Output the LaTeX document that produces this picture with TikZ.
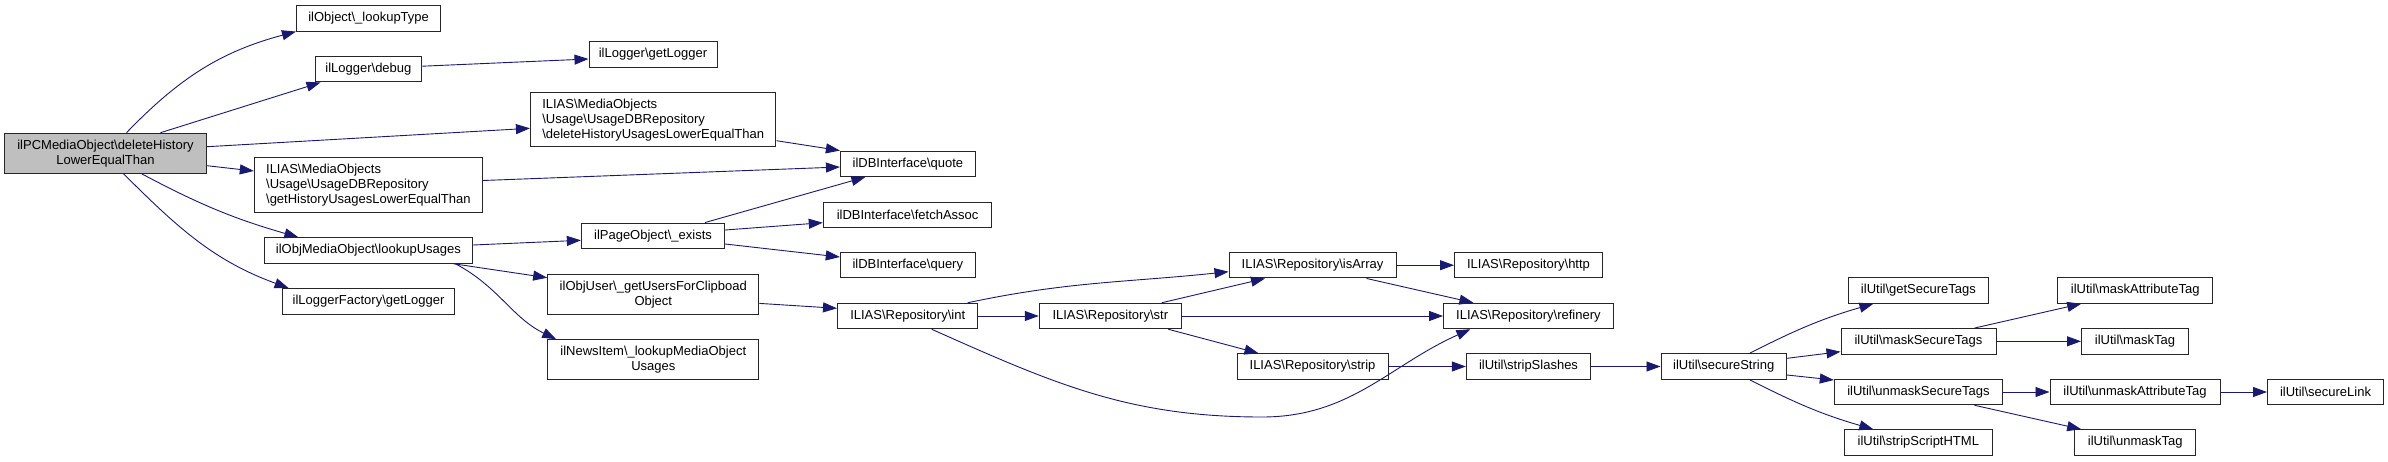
\documentclass[tikz,border=0pt]{standalone}
\usepackage{fontspec}
\setmainfont{Liberation Sans}
\usetikzlibrary{arrows.meta}
\definecolor{edgeblue}{HTML}{191970}
\definecolor{rootgray}{HTML}{BFBFBF}
\newcommand{\bsl}{\textbackslash}
\tikzset{>={Triangle[length=14pt,width=10pt]}}
\tikzset{
  fn/.style={draw=black!85, line width=1pt, fill=white, inner sep=0pt,
    minimum height=25.5pt, align=center, font=\fontsize{13}{15}\selectfont},
  fnl/.style={fn, align=left},
  call/.style={->, edgeblue, line width=0.9pt}
}

\begin{document}
\begin{tikzpicture}[x=1pt,y=1pt]
	\useasboundingbox (0,0) rectangle (2388,-461);

	% caller
	\node[fn, fill=rootgray, minimum width=202pt, minimum height=40pt] (root) at (105.5,-153.2) {ilPCMediaObject\bsl deleteHistory\\LowerEqualThan};

	% first rank
	\node[fn, minimum width=144.3pt] (lookupType) at (368.6,-18.3) {ilObject\bsl\_lookupType};
	\node[fn, minimum width=106.8pt] (debug) at (368.4,-69.2) {ilLogger\bsl debug};
	\node[fnl, minimum width=228.2pt, minimum height=54.6pt] (getHist) at (368.4,-185) {ILIAS\bsl MediaObjects\\\bsl Usage\bsl UsageDBRepository\\\bsl getHistoryUsagesLowerEqualThan};
	\node[fn, minimum width=208.2pt] (lookupUsages) at (368.4,-250.5) {ilObjMediaObject\bsl lookupUsages};
	\node[fn, minimum width=172.1pt] (loggerFactory) at (368.6,-301.3) {ilLoggerFactory\bsl getLogger};

	\node[fn, minimum width=128pt] (getLogger) at (653,-54.3) {ilLogger\bsl getLogger};
	\node[fnl, minimum width=245.5pt, minimum height=54.4pt] (delHist) at (653.2,-119.7) {ILIAS\bsl MediaObjects\\\bsl Usage\bsl UsageDBRepository\\\bsl deleteHistoryUsagesLowerEqualThan};
	\node[fn, minimum width=143.3pt] (exists) at (653,-235.8) {ilPageObject\bsl\_exists};
	\node[fn, minimum width=211.3pt, minimum height=40pt] (getUsers) at (653.3,-294.4) {ilObjUser\bsl\_getUsersForClipboad\\Object};
	\node[fn, minimum width=211.3pt, minimum height=40pt] (newsItem) at (653.3,-359.7) {ilNewsItem\bsl\_lookupMediaObject\\Usages};

	\node[fn, minimum width=135pt] (quote) at (907.9,-163.8) {ilDBInterface\bsl quote};
	\node[fn, minimum width=168.7pt] (fetchAssoc) at (907.6,-214.8) {ilDBInterface\bsl fetchAssoc};
	\node[fn, minimum width=135pt] (query) at (907.8,-265.2) {ilDBInterface\bsl query};
	\node[fn, minimum width=140.4pt] (repoInt) at (907.7,-316) {ILIAS\bsl Repository\bsl int};

	\node[fn, minimum width=142.1pt] (repoStr) at (1110.3,-316) {ILIAS\bsl Repository\bsl str};
	\node[fn, minimum width=167pt] (isArray) at (1312.5,-265.2) {ILIAS\bsl Repository\bsl isArray};
	\node[fn, minimum width=151pt] (repoStrip) at (1312.5,-366.5) {ILIAS\bsl Repository\bsl strip};
	\node[fn, minimum width=148pt] (http) at (1528.5,-265.2) {ILIAS\bsl Repository\bsl http};
	\node[fn, minimum width=169.7pt] (refinery) at (1528.4,-316) {ILIAS\bsl Repository\bsl refinery};
	\node[fn, minimum width=124.3pt] (stripSlashes) at (1528.5,-366.5) {ilUtil\bsl stripSlashes};
	\node[fn, minimum width=125.4pt] (secureString) at (1723.7,-366.5) {ilUtil\bsl secureString};

	\node[fn, minimum width=140pt] (getSecureTags) at (1918.4,-290.5) {ilUtil\bsl getSecureTags};
	\node[fn, minimum width=155pt] (maskSecureTags) at (1918.5,-341.3) {ilUtil\bsl maskSecureTags};
	\node[fn, minimum width=168.2pt] (unmaskSecureTags) at (1918.4,-392) {ilUtil\bsl unmaskSecureTags};
	\node[fn, minimum width=147.5pt] (stripScriptHTML) at (1918.3,-442.5) {ilUtil\bsl stripScriptHTML};
	\node[fn, minimum width=154.8pt] (maskAttributeTag) at (2135.2,-290.5) {ilUtil\bsl maskAttributeTag};
	\node[fn, minimum width=107pt] (maskTag) at (2135,-341.3) {ilUtil\bsl maskTag};
	\node[fn, minimum width=170pt] (unmaskAttributeTag) at (2135,-392) {ilUtil\bsl unmaskAttributeTag};
	\node[fn, minimum width=120.5pt] (unmaskTag) at (2135.2,-442.5) {ilUtil\bsl unmaskTag};
	\node[fn, minimum width=116pt] (secureLink) at (2325.5,-392) {ilUtil\bsl secureLink};

	% calls from the root
	\draw[call] ([xshift=21pt]root.north) to[out=46,in=195] (lookupType.south west);
	\draw[call] ([xshift=55pt]root.north) -- ([xshift=6pt]debug.south west);
	\draw[call] ([yshift=6.5pt]root.east) -- ([yshift=-8.6pt]delHist.west);
	\draw[call] ([yshift=-12.5pt]root.east) -- ([yshift=14pt]getHist.west);
	\draw[call] ([xshift=36pt]root.south) to[out=-28,in=164] ([xshift=-70pt]lookupUsages.north);
	\draw[call] ([xshift=18pt]root.south) to[out=-45,in=160] ([xshift=-80pt]loggerFactory.north);

	\draw[call] ([yshift=3pt]debug.east) -- ([yshift=-4.7pt]getLogger.west);
	\draw[call] ([yshift=-21pt]delHist.east) -- (quote.north west);
	\draw[call] ([yshift=4.5pt]getHist.east) -- ([yshift=-3.2pt]quote.west);
	\draw[call] ([yshift=5.5pt]lookupUsages.east) -- ([yshift=-4.5pt]exists.west);
	\draw[call] ([xshift=85pt]lookupUsages.south) -- ([yshift=16.7pt]getUsers.west);
	\draw[call] ([xshift=87pt]lookupUsages.south) to[out=-28,in=154] ([xshift=9pt]newsItem.north west);

	\draw[call] ([xshift=52pt]exists.north) -- ([xshift=-42.5pt]quote.south);
	\draw[call] ([yshift=5.8pt]exists.east) -- ([yshift=-7.9pt]fetchAssoc.west);
	\draw[call] ([yshift=-8.2pt]exists.east) -- ([yshift=8.2pt]query.west);
	\draw[call] ([yshift=-9pt]getUsers.east) -- ([yshift=7.7pt]repoInt.west);

	\draw[call] ([xshift=60pt]repoInt.north) to[out=12,in=186] ([yshift=-6.5pt]isArray.west);
	\draw[call] ([xshift=24pt]repoInt.south) to[out=-24,in=180] (1262,-417) to[out=0,in=204] ([xshift=-58pt]refinery.south);
	\draw[call] ([xshift=51.4pt]repoStr.north) -- ([xshift=-47.5pt]isArray.south);
	\draw[call] ([xshift=58pt]repoStr.south) -- ([xshift=-54pt]repoStrip.north);
	\draw[call] ([xshift=54pt]isArray.south) -- ([xshift=-55pt]refinery.north);

	\draw[call] ([xshift=26pt]secureString.north) to[out=27,in=196] ([xshift=-45pt]getSecureTags.south);
	\draw[call] ([yshift=8.2pt]secureString.east) -- ([yshift=-10.4pt]maskSecureTags.west);
	\draw[call] ([yshift=-8.5pt]secureString.east) -- ([yshift=12pt]unmaskSecureTags.west);
	\draw[call] ([xshift=26pt]secureString.south) to[out=-27,in=164] ([xshift=-45pt]stripScriptHTML.north);
	\draw[call] ([xshift=56pt]maskSecureTags.north) -- ([xshift=-54pt]maskAttributeTag.south);
	\draw[call] ([xshift=56pt]unmaskSecureTags.south) -- ([xshift=-54pt]unmaskTag.north);

	% straight calls along a row
	\foreach \a/\b in {repoInt/repoStr, repoStr/refinery, isArray/http, repoStrip/stripSlashes,
	    stripSlashes/secureString, maskSecureTags/maskTag, unmaskSecureTags/unmaskAttributeTag,
	    unmaskAttributeTag/secureLink} {
	     \draw[call] (\a) -- (\b);
	}
\end{tikzpicture}
\end{document}
